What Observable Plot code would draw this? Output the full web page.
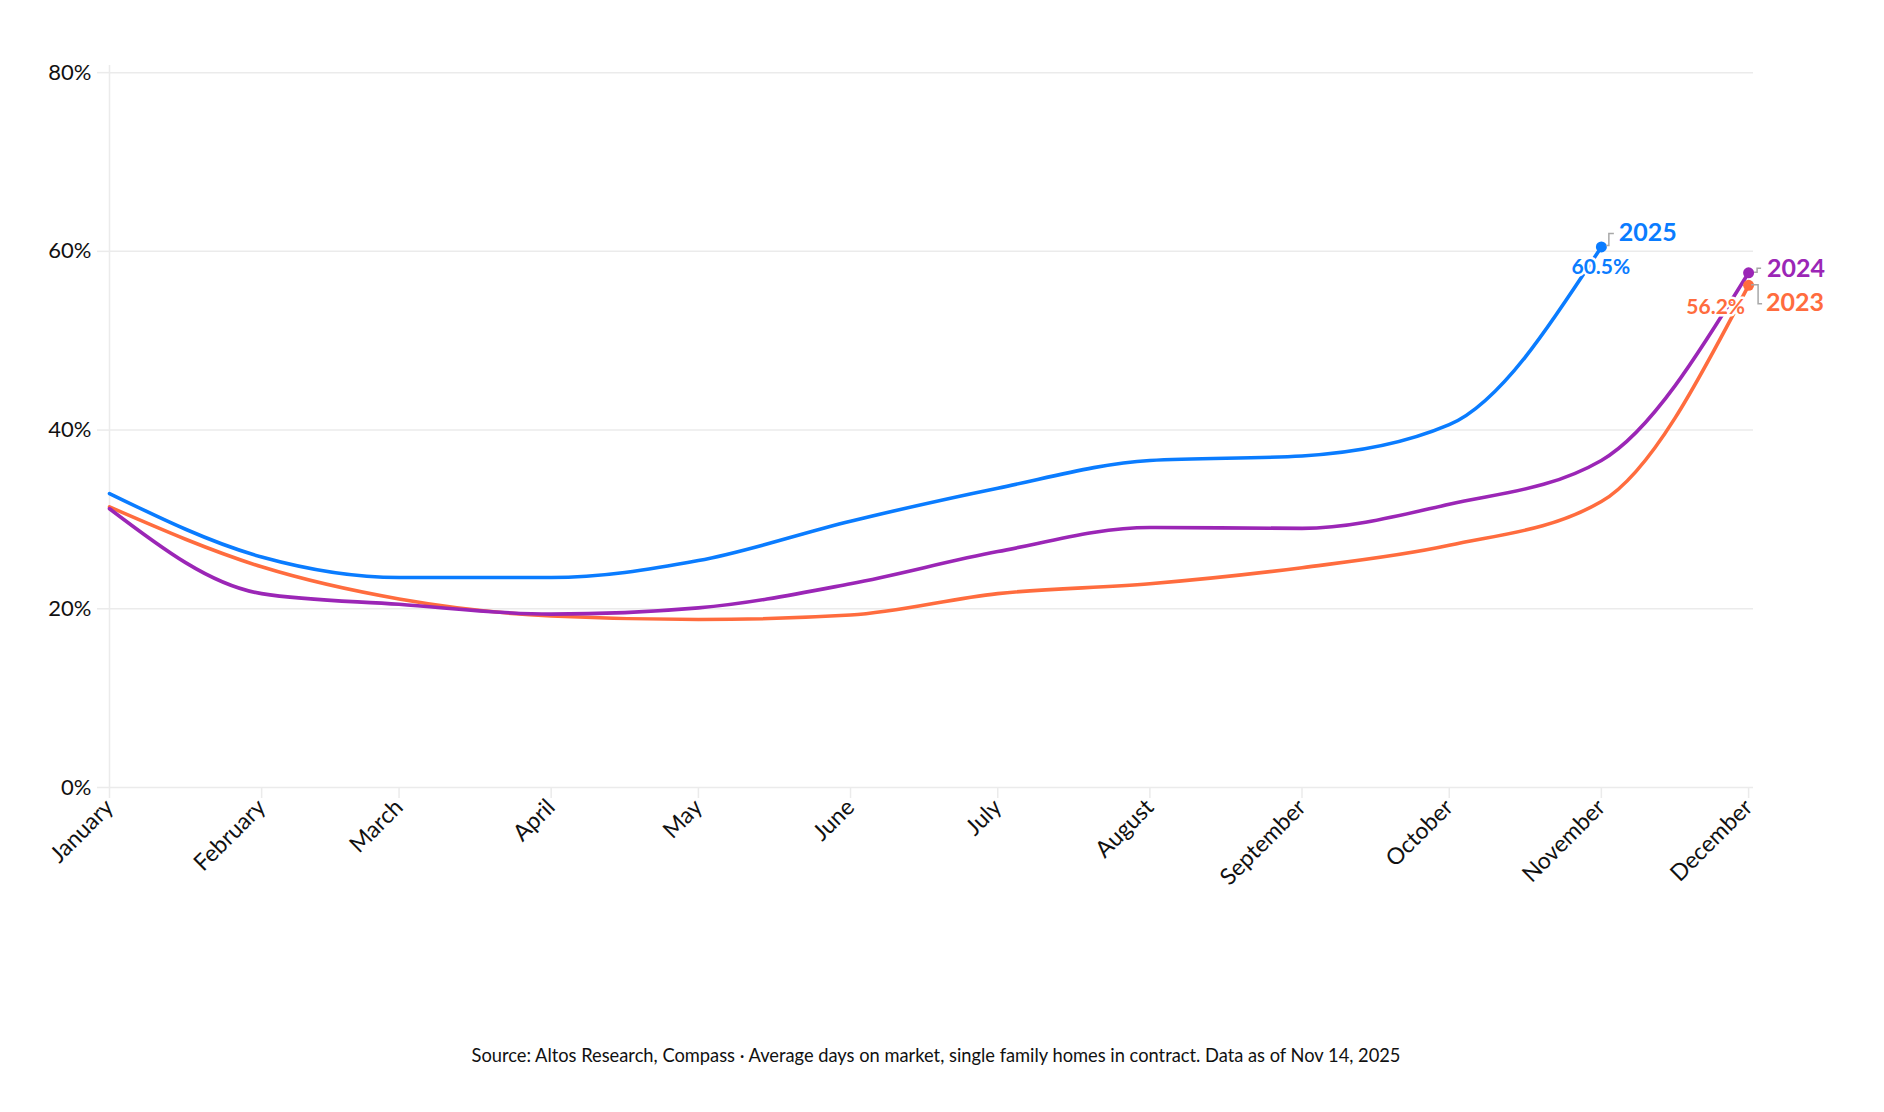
<!DOCTYPE html>
<html>
<head>
<meta charset="utf-8">
<script src="https://cdn.jsdelivr.net/npm/d3@7"></script>
<script src="https://cdn.jsdelivr.net/npm/@observablehq/plot@0.6"></script>
<style>
  html, body { margin: 0; padding: 0; background: #fff; }
  body { width: 1884px; font-family: Lato, "Noto Sans", sans-serif; }
  #caption { width: 1872px; text-align: center; font-size: 18.3px; color: #111; line-height: 26px; margin-top: 4px; }
</style>
</head>
<body>
<div id="chart"></div>
<div id="caption">Source: Altos Research, Compass · Average days on market, single family homes in contract. Data as of Nov 14, 2025</div>
<script>
const months = ["January","February","March","April","May","June","July","August","September","October","November","December"];
const years = ["2023","2024","2025"];
const colors = ["#ff6c3e","#9b26b6","#0a7cff"];
const v2023 = [31.4, 24.7, 21.1, 19.2, 18.8, 19.3, 21.7, 22.8, 24.6, 27.1, 32.0, 56.2];
const v2024 = [31.2, 21.7, 20.5, 19.4, 20.1, 22.8, 26.4, 29.1, 29.0, 31.7, 36.6, 57.6];
const v2025 = [32.9, 25.8, 23.5, 23.5, 25.4, 29.8, 33.5, 36.6, 37.1, 40.6, 60.5];
const yTicks = [0, 20, 40, 60, 80];

const monthDates = months.map((m, i) => new Date(Date.UTC(2025, i, 1)));
const series = [v2023, v2024, v2025];
const rows = [];
series.forEach((vals, s) => vals.forEach((v, i) => rows.push({year: years[s], date: monthDates[i], value: v})));
const lasts = series.map((vals, s) => ({year: years[s], date: monthDates[vals.length - 1], value: vals[vals.length - 1], color: colors[s]}));

const plot = Plot.plot({
  width: 1884,
  height: 1038,
  marginTop: 65,
  marginBottom: 251,
  marginLeft: 109,
  marginRight: 131,
  style: {fontFamily: "Lato, 'Noto Sans', sans-serif", fontSize: "22px", color: "#111", background: "#fff"},
  x: {type: "utc", domain: [monthDates[0], new Date(Date.UTC(2025, 11, 2))]},
  y: {domain: [0, 80.8]},
  color: {domain: years, range: colors},
  marks: [
    Plot.gridY(yTicks, {stroke: "#ebebeb", strokeOpacity: 1, strokeWidth: 1.5}),
    Plot.ruleX([monthDates[0]], {y1: 0, y2: 80.8, stroke: "#ebebeb", strokeWidth: 1.5}),
    Plot.axisY(yTicks, {tickFormat: d => d + "%", tickSize: 12, tickPadding: 6, stroke: "#ebebeb", strokeWidth: 1.5, fill: "#111", fontSize: 22, label: null}),
    Plot.axisX(monthDates, {tickFormat: (d, i) => months[d.getUTCMonth()], tickRotate: -45, tickSize: 11, tickPadding: 5, stroke: "#ebebeb", strokeWidth: 1.5, fill: "#111", fontSize: 23, label: null}),
    Plot.line(rows, {x: "date", y: "value", z: "year", stroke: "year", strokeWidth: 3.6, curve: "monotone-x"}),
    Plot.dot(lasts, {x: "date", y: "value", fill: "color", r: 5.5})
  ]
});
document.getElementById("chart").appendChild(plot);

// annotations positioned from the plot's own scales
const sx = plot.scale("x"), sy = plot.scale("y");
const svg = d3.select(plot);
const g = svg.append("g");
const px = d => sx.apply(d.date), py = d => sy.apply(d.value);
const L = Object.fromEntries(lasts.map(d => [d.year, d]));

function bracket(d, path) {
  g.append("path").attr("d", path(px(d), py(d))).attr("fill", "none").attr("stroke", "#a8a8a8").attr("stroke-width", 1.5);
}
bracket(L["2025"], (x, y) => `M${x + 5},${y - 1}H${x + 8}V${y - 13}H${x + 13}`);
bracket(L["2024"], (x, y) => `M${x + 6},${y}H${x + 9}V${y - 4}H${x + 13}`);
bracket(L["2023"], (x, y) => `M${x + 3},${y}H${x + 10}V${y + 19}H${x + 14}`);

function label(d, text, dx, dy, size, anchor, halo) {
  const t = g.append("text").attr("x", px(d) + dx).attr("y", py(d) + dy).attr("dy", "0.35em")
    .attr("text-anchor", anchor).attr("fill", d.color).attr("font-weight", 700)
    .attr("font-size", size).text(text);
  if (halo) t.attr("stroke", "#fff").attr("stroke-width", 5).attr("stroke-linejoin", "round").attr("paint-order", "stroke");
}
label(L["2025"], L["2025"].year, 18, -14, 25, "start", false);
label(L["2024"], L["2024"].year, 19, -4, 25, "start", false);
label(L["2023"], L["2023"].year, 18, 17, 25, "start", false);
label(L["2025"], L["2025"].value.toFixed(1) + "%", 0, 20, 21, "middle", true);
label(L["2023"], L["2023"].value.toFixed(1) + "%", -3, 22, 21, "end", true);
</script>
</body>
</html>
